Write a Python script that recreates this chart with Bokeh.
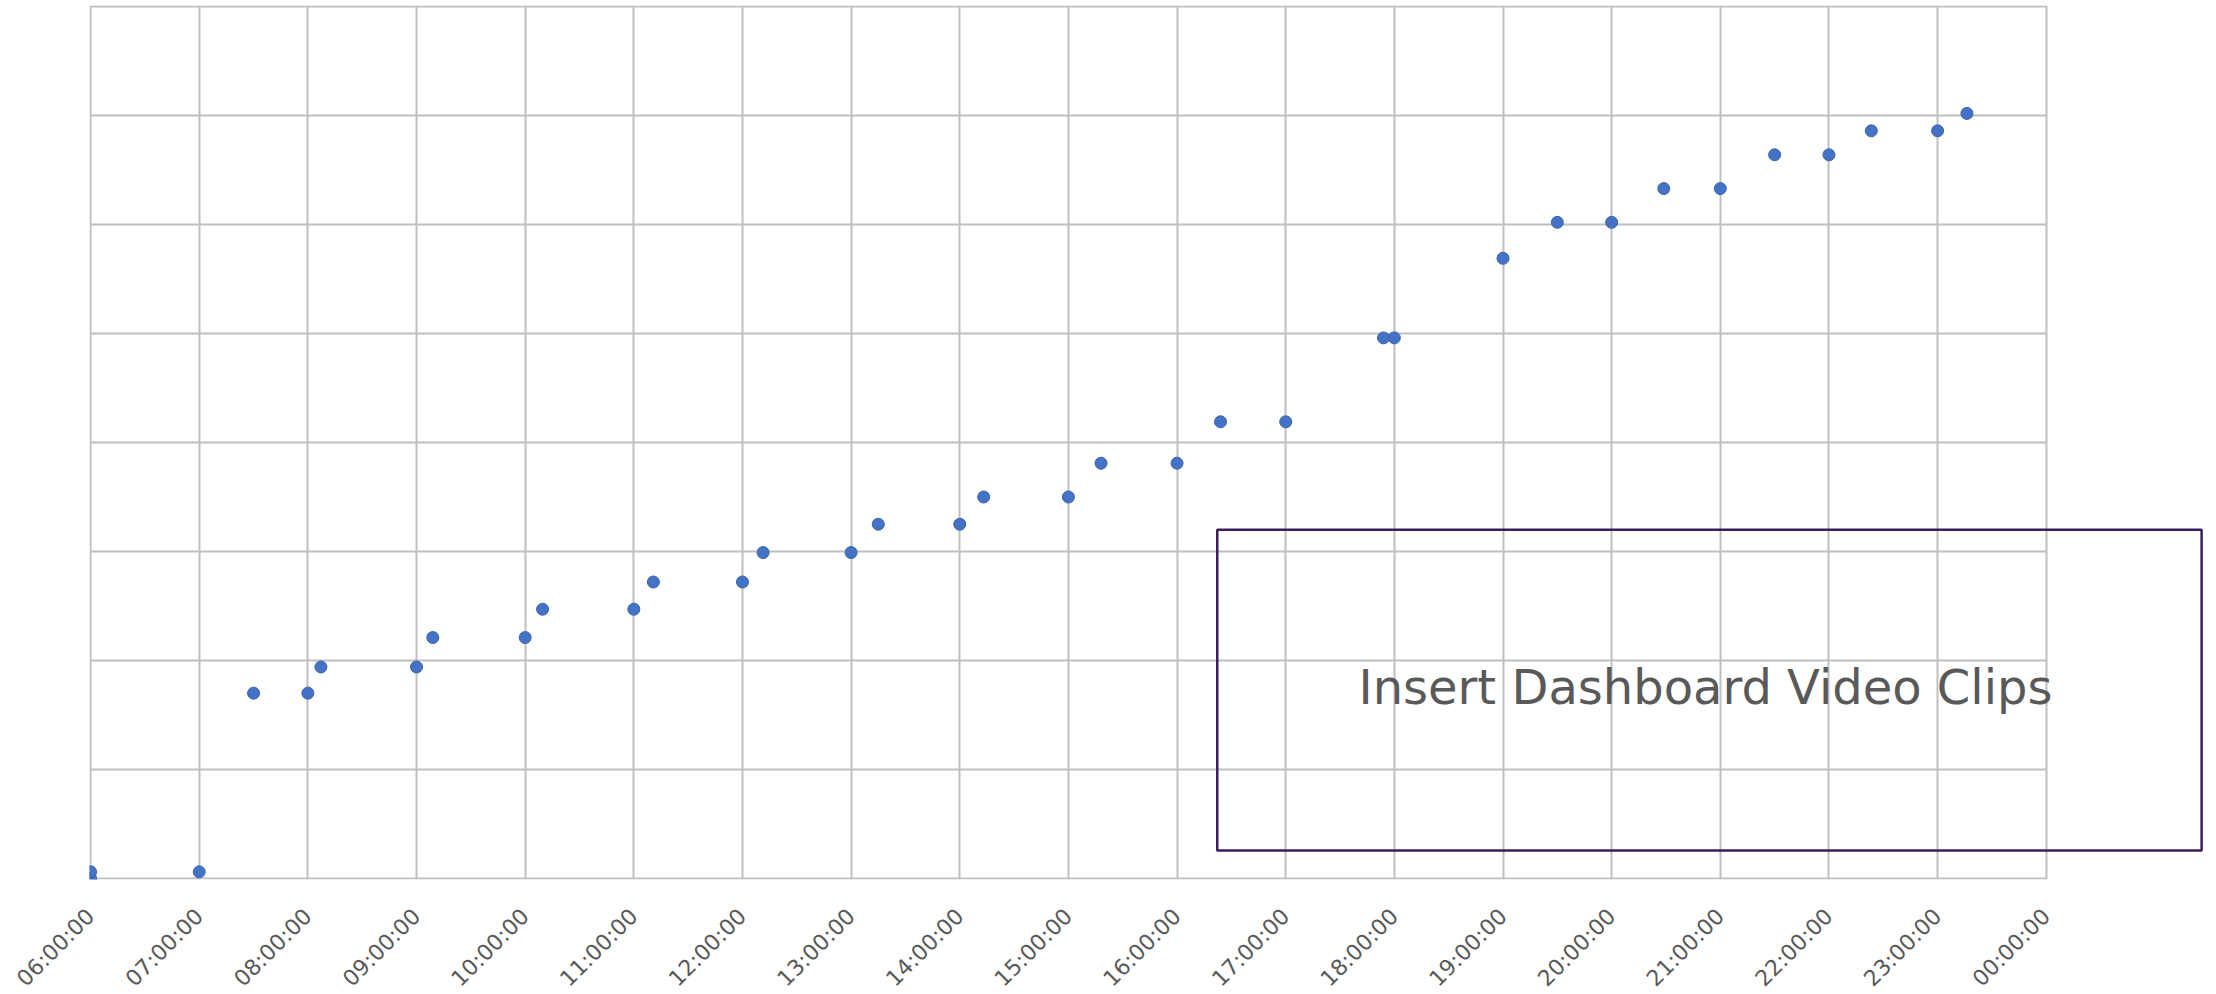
from bokeh.plotting import figure
from bokeh.models import FixedTicker, BoxAnnotation, Label, Range1d
from bokeh.embed import file_html
from bokeh.resources import INLINE
from math import pi

# ---- data (hours of day, value) ----
hours = [6.0, 6.0, 7.0, 7.5, 8.0, 8.12, 9.0, 9.15, 10.0, 10.16, 11.0, 11.18,
         12.0, 12.19, 13.0, 13.25, 14.0, 14.22, 15.0, 15.3, 16.0, 16.4, 17.0,
         17.9, 18.0, 19.0, 19.5, 20.0, 20.48, 21.0, 21.5, 22.0, 22.39, 23.0, 23.27]
values = [0.0, 0.06, 0.06, 1.70, 1.70, 1.94, 1.94, 2.21, 2.21, 2.47, 2.47, 2.72,
          2.72, 2.99, 2.99, 3.25, 3.25, 3.50, 3.50, 3.81, 3.81, 4.19, 4.19,
          4.96, 4.96, 5.69, 6.02, 6.02, 6.33, 6.33, 6.64, 6.64, 6.86, 6.86, 7.02]

x_ticks = list(range(6, 25))
x_tick_labels = ["06:00:00", "07:00:00", "08:00:00", "09:00:00", "10:00:00",
                 "11:00:00", "12:00:00", "13:00:00", "14:00:00", "15:00:00",
                 "16:00:00", "17:00:00", "18:00:00", "19:00:00", "20:00:00",
                 "21:00:00", "22:00:00", "23:00:00", "00:00:00"]
y_grid = list(range(0, 9))

placeholder_text = "Insert Dashboard Video Clips"

GRID = "#BFBFBF"
TXT = "#595959"

p = figure(frame_width=2117, frame_height=874,
           x_range=Range1d(5.99, 25.475), y_range=Range1d(-0.01, 8.01),
           output_backend="svg", toolbar_location=None,
           min_border_left=89, min_border_right=0, min_border_top=5,
           min_border_bottom=0, background_fill_color="white",
           border_fill_color="white")
p.outline_line_color = None

# horizontal grid lines only across the time span
p.segment(x0=[x_ticks[0]] * len(y_grid), x1=[x_ticks[-1]] * len(y_grid),
          y0=y_grid, y1=y_grid, line_color=GRID, line_width=2, level="underlay")
p.ygrid.visible = False

p.xaxis.ticker = FixedTicker(ticks=x_ticks)
p.xgrid.ticker = FixedTicker(ticks=x_ticks)
p.xgrid.grid_line_color = GRID
p.xgrid.grid_line_width = 2
p.xaxis.major_label_overrides = {t: l for t, l in zip(x_ticks, x_tick_labels)}
p.xaxis.major_label_orientation = pi / 4
p.xaxis.major_label_text_font = "DejaVu Sans"
p.xaxis.major_label_text_font_size = "22px"
p.xaxis.major_label_text_color = TXT
p.xaxis.major_label_standoff = 27
p.xaxis.axis_line_color = None
p.xaxis.major_tick_line_color = None
p.xaxis.minor_tick_line_color = None
p.yaxis.visible = False

p.scatter(hours, values, size=12, fill_color="#4472C4", line_color="#3A64AF",
          line_width=1)

box = BoxAnnotation(left=16.37, right=25.43, bottom=0.257, top=3.20,
                    fill_color=None, fill_alpha=0, line_color="#3B1D5A",
                    line_alpha=1.0, line_width=2.5)
p.add_layout(box)

p.add_layout(Label(x=17.67, y=1.76, text=placeholder_text,
                   text_font="DejaVu Sans", text_font_size="48px",
                   text_color=TXT, text_align="left",
                   text_baseline="alphabetic"))

open("out.html", "w").write(file_html(p, INLINE))
